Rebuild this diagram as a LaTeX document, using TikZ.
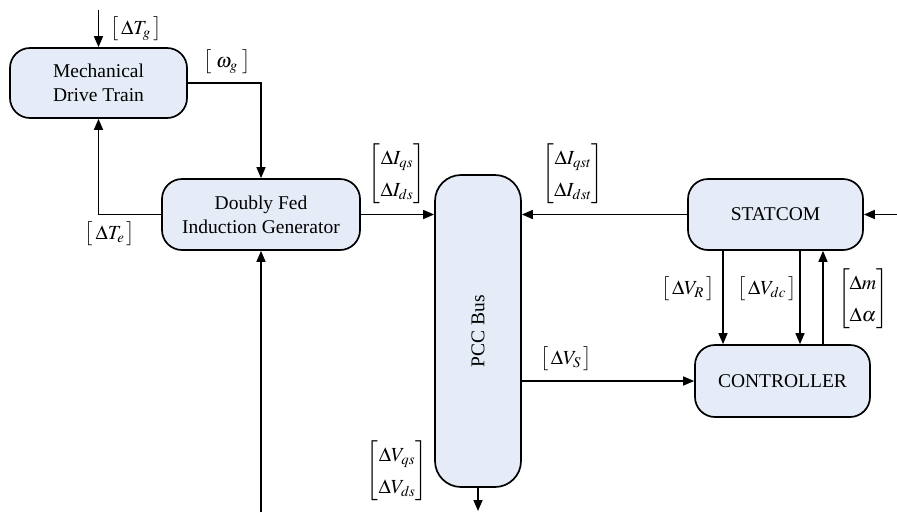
\documentclass[tikz,border=0pt]{standalone}
\usepackage{amsmath}
\usepackage{mathptmx}
\usepackage[no-math]{fontspec}
\setmainfont{Liberation Serif}
\usetikzlibrary{arrows.meta}
\definecolor{boxfill}{RGB}{229,236,247}
\tikzset{
  blk/.style={draw, line width=1.7pt, fill=boxfill, rounded corners=20pt, inner sep=0pt, align=center, font=\rmfamily\fontsize{19.5}{24}\selectfont},
  arr/.style={line width=1.5pt, -{Triangle[length=11pt,width=9pt]}},
  lbl/.style={inner sep=0pt, font=\fontsize{20}{24}\selectfont},
}
\newcommand{\mvec}[2]{$\renewcommand{\arraystretch}{1.35}\begin{bmatrix}#1\\#2\end{bmatrix}$}
\newcommand{\svec}[1]{$\bigl[\,#1\,\bigr]$}
\begin{document}
\begin{tikzpicture}[x=1pt,y=-1pt]
\useasboundingbox (0,0) rectangle (897,512);
% blocks
\node[blk, minimum width=177pt, minimum height=70pt] (mdt) at (98.5,83) {Mechanical\\Drive Train};
\node[blk, minimum width=198pt, minimum height=71pt] (dfig) at (261,214.5) {Doubly Fed\\Induction Generator};
\node[blk, minimum width=86pt, minimum height=312pt, rounded corners=26pt] (pcc) at (478,331) {};
\node[font=\rmfamily\fontsize{19.5}{24}\selectfont, rotate=90] (pcclbl) at (pcc.center) {PCC Bus};
\node[blk, minimum width=175pt, minimum height=71pt] (stat) at (775.5,214.5) {STATCOM};
\node[blk, minimum width=175pt, minimum height=72pt] (ctrl) at (782.5,381) {CONTROLLER};
% free ends
\coordinate (tgin) at (98.5,10);
\coordinate (stin) at (897,214.5);
\coordinate (pccout) at (478,511);
\coordinate (dfin) at (261,512);
\coordinate (xr) at (723,0);
\coordinate (xdc) at (800,0);
\coordinate (xm) at (823,0);
% connectors
\draw[arr] (tgin) -- (mdt.north);
\draw[arr] (mdt.east) -| (dfig.north);
\draw[arr] (dfig.west) -| (mdt.south);
\draw[arr] (dfig.east) -- (dfig.east -| pcc.west);
\draw[arr] (stat.west) -- (stat.west -| pcc.east);
\draw[arr] (stin) -- (stat.east);
\draw[arr] (pcc.east |- ctrl.west) -- (ctrl.west);
\draw[arr] (stat.south -| xr) -- (ctrl.north -| xr);
\draw[arr] (stat.south -| xdc) -- (ctrl.north -| xdc);
\draw[arr] (ctrl.north -| xm) -- (stat.south -| xm);
\draw[arr] (pcc.south) -- (pccout);
\draw[arr] (dfin) -- (dfig.south);
% labels
\node[lbl] (ltg) at (136,29) {\svec{\Delta T_g}};
\node[lbl] (lwg) at (227,62) {\svec{\,\omega_g\,}};
\node[lbl] (lte) at (110,234) {\svec{\Delta T_e}};
\node[lbl] (lis) at (397,174) {\mvec{\Delta I_{qs}}{\Delta I_{ds}}};
\node[lbl] (list) at (573,174) {\mvec{\Delta I_{qst}}{\Delta I_{dst}}};
\node[lbl] (lvs) at (566,359) {\svec{\Delta V_S}};
\node[lbl] (lvr) at (688,289) {\svec{\Delta V_R}};
\node[lbl] (lvdc) at (767,289) {\svec{\Delta V_{dc}}};
\node[lbl] (lma) at (863,299) {\mvec{\Delta m}{\Delta \alpha}};
\node[lbl] (lvqs) at (397,471) {\mvec{\Delta V_{qs}}{\Delta V_{ds}}};
\end{tikzpicture}
\end{document}
